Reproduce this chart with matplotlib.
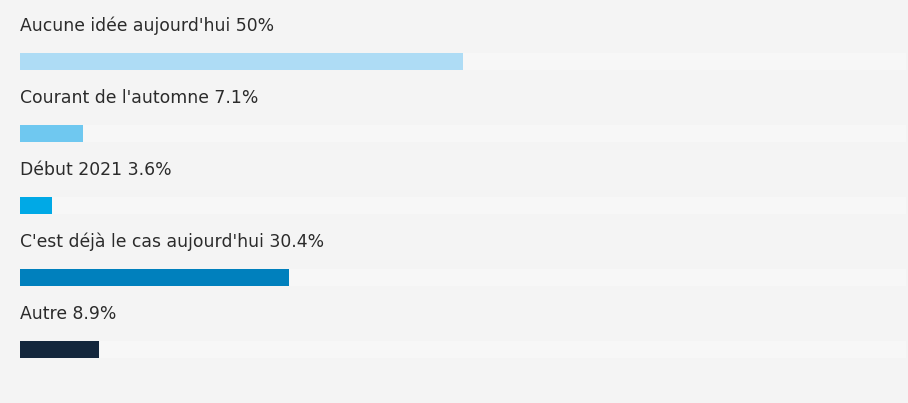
import matplotlib
matplotlib.use("Agg")
import matplotlib.pyplot as plt

categories = ["Aucune idée aujourd'hui", "Courant de l'automne", "Début 2021",
              "C'est déjà le cas aujourd'hui", "Autre"]
values = [50, 7.1, 3.6, 30.4, 8.9]
value_labels = ["50%", "7.1%", "3.6%", "30.4%", "8.9%"]
colors = ["#aedcf5", "#6fc8f0", "#00a9e6", "#0080bd", "#14273d"]

W, H = 908, 403
fig = plt.figure(figsize=(W / 100, H / 100), dpi=100, facecolor="#f4f4f4")
ax = fig.add_axes([20 / W, 0, 886 / W, 1])
ax.set_facecolor("#f4f4f4")
ax.set_xlim(0, 100)
top = -61.5 / 72
ax.set_ylim(top + H / 72, top)
ax.axis("off")

bh = 17 / 72
for i, (c, v, lab, col) in enumerate(zip(categories, values, value_labels, colors)):
    ax.barh(i, 100, height=bh, color="#f7f7f7", linewidth=0)
    ax.barh(i, v, height=bh, color=col, linewidth=0)
    ax.text(0, i - 0.49, f"{c} {lab}", ha="left", va="center",
            fontsize=12.4, color="#2b2b2b", family=["DejaVu Sans"])

fig.savefig("out.png", dpi=100, facecolor=fig.get_facecolor())
